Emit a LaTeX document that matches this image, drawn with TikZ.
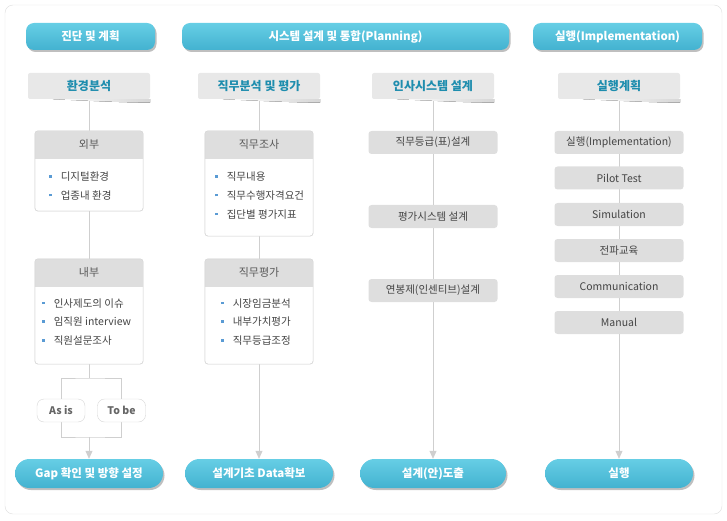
\documentclass[tikz,border=0pt]{standalone}
\usepackage{fontspec}
\setmainfont{Noto Sans CJK KR}
\usetikzlibrary{calc, positioning, shadows, arrows.meta, backgrounds}

\definecolor{pillTop}{HTML}{66CEE5}
\definecolor{pillBot}{HTML}{43B2D0}
\definecolor{subGray}{HTML}{E8E8E8}
\definecolor{subText}{HTML}{1E8DAE}
\definecolor{cardGray}{HTML}{DEDEDE}
\definecolor{cardLine}{HTML}{D6D6D6}
\definecolor{linkGray}{HTML}{CFCFCF}
\definecolor{txtGray}{HTML}{444444}
\definecolor{bulBlue}{HTML}{5A9BD4}
\definecolor{frameLine}{HTML}{DDDDDD}

\newcommand{\bul}{\textcolor{bulBlue}{\rule[3pt]{2.6pt}{2.6pt}}\hspace{9pt}}
% grey band on top of a card, with its title
\newcommand{\cardhead}[2]{%
  \begin{scope}
    \clip ([xshift=-1pt]#1.north west) rectangle ([xshift=1pt,yshift=-28pt]#1.north east);
    \fill[cardGray, rounded corners=3pt] (#1.south west) rectangle (#1.north east);
  \end{scope}
  \draw[cardLine, rounded corners=3pt] (#1.south west) rectangle (#1.north east);
  \node[cardtitle] at ([yshift=-14pt]#1.north) {#2};}
% fading shadow under a sub header
\newcommand{\subshadow}[1]{%
  \fill[left color=white, right color=black!16]
    ([xshift=25pt]#1.south west) .. controls ([xshift=-30pt,yshift=-3pt]#1.south east) .. ([yshift=-3.5pt]#1.south east) -- (#1.south east) -- cycle;}

\tikzset{
  headbox/.style={rounded corners=8pt, minimum height=27pt, inner sep=0pt,
    top color=pillTop, bottom color=pillBot, text=white,
    font=\fontsize{11.5}{13}\selectfont\bfseries,
    drop shadow={shadow xshift=1.5pt, shadow yshift=-2pt, fill=black, opacity=.25}},
  pillbox/.style={headbox, rounded corners=14.5pt, minimum height=29pt, minimum width=148pt},
  subhead/.style={fill=subGray, rounded corners=2pt, minimum width=122pt, minimum height=26pt,
    inner sep=0pt, text=subText, font=\fontsize{12}{14}\selectfont\bfseries},
  cardbox/.style={draw=cardLine, fill=white, rounded corners=3pt, minimum width=108pt},
  cardtitle/.style={text=black!65, font=\fontsize{11}{13}\selectfont, inner sep=0pt},
  itemlist/.style={align=left, anchor=west, inner sep=0pt, text=txtGray,
    font=\fontsize{10.5}{18.7}\selectfont},
  tagbox/.style={draw=cardLine, fill=white, rounded corners=7pt, minimum width=48pt,
    minimum height=23pt, inner sep=0pt, text=black!60, font=\fontsize{10.5}{12}\selectfont\bfseries},
  stepbox/.style={fill=cardGray, rounded corners=3pt, minimum width=129pt, minimum height=23pt,
    inner sep=0pt, text=txtGray, font=\fontsize{10.5}{12}\selectfont},
  link/.style={draw=linkGray, line width=0.8pt},
  arrowlink/.style={link, -{Triangle[width=7pt, length=8pt]}}
}

\begin{document}
\begin{tikzpicture}[x=1pt, y=-1pt]
\useasboundingbox (0,0) rectangle (727,521);
\draw[frameLine, rounded corners=8pt] (5,5) rectangle (722,514);

% phase headers
\node[headbox, minimum width=129pt] (hDiag) at (90.5,36.5) {진단 및 계획};
\node[headbox, minimum width=327pt] (hPlan) at (345.5,36.5) {시스템 설계 및 통합(Planning)};
\node[headbox, minimum width=169pt] (hImpl) at (617.5,36.5) {실행(Implementation)};

% sub headers
\node[subhead] (sEnv) at (89,86) {환경분석};
\node[subhead] (sJob) at (259,86) {직무분석 및 평가};
\node[subhead] (sHrs) at (433,86) {인사시스템 설계};
\node[subhead] (sRun) at (619,86) {실행계획};
\subshadow{sEnv}
\subshadow{sJob}
\subshadow{sHrs}
\subshadow{sRun}

% column 1
\node[cardbox, minimum height=80pt] (cExt) at (89,171) {};
\cardhead{cExt}{외부}
\node[itemlist] (lExt) at (49,186) {\bul 디지털환경\\\bul 업종내 환경};
\node[cardbox, minimum height=105pt] (cInt) at (89,311.5) {};
\cardhead{cInt}{내부}
\node[itemlist] (lInt) at (42,322) {\bul 인사제도의 이슈\\\bul 임직원 interview\\\bul 직원설문조사};
\node[tagbox] (asis) at (61,410.5) {As is};
\node[tagbox] (tobe) at (121.5,410.5) {To be};
\coordinate (split) at (89,378);
\coordinate (join) at (89,437);
\node[pillbox] (pGap) at (89,473.5) {Gap 확인 및 방향 설정};

% column 2
\node[cardbox, minimum height=105pt] (cSurv) at (259,183.5) {};
\cardhead{cSurv}{직무조사}
\node[itemlist] (lSurv) at (215,195.5) {\bul 직무내용\\\bul 직무수행자격요건\\\bul 집단별 평가지표};
\node[cardbox, minimum height=105pt] (cEval) at (259,311.5) {};
\cardhead{cEval}{직무평가}
\node[itemlist] (lEval) at (221,322) {\bul 시장임금분석\\\bul 내부가치평가\\\bul 직무등급조정};
\node[pillbox] (pData) at (259,473.5) {설계기초 Data확보};

% column 3
\node[stepbox] (tGrade) at (433,142.5) {직무등급(표)설계};
\node[stepbox] (tAppr) at (433,216.5) {평가시스템 설계};
\node[stepbox] (tPay) at (433,290.5) {연봉제(인센티브)설계};
\node[pillbox, minimum width=146pt] (pDraft) at (433,473.5) {설계(안)도출};

% column 4
\node[stepbox] (tImpl) at (619,142.5) {실행(Implementation)};
\node[stepbox] (tPilot) at (619,178) {Pilot Test};
\node[stepbox] (tSim) at (619,214.5) {Simulation};
\node[stepbox] (tEdu) at (619,250.5) {전파교육};
\node[stepbox] (tComm) at (619,286.5) {Communication};
\node[stepbox] (tMan) at (619,322.5) {Manual};
\node[pillbox] (pRun) at (619,473.5) {실행};

% connectors
\begin{scope}[on background layer]
  \draw[link] (sEnv.south) -- (split);
  \draw[link] (asis.north) |- (split) -| (tobe.north);
  \draw[link] (asis.south) |- (join) -| (tobe.south);
  \draw[arrowlink] (join) -- (pGap.north);
  \draw[arrowlink] (sJob.south) -- (pData.north);
  \draw[arrowlink] (sHrs.south) -- (pDraft.north);
  \draw[arrowlink] (sRun.south) -- (pRun.north);
\end{scope}
\end{tikzpicture}
\end{document}
